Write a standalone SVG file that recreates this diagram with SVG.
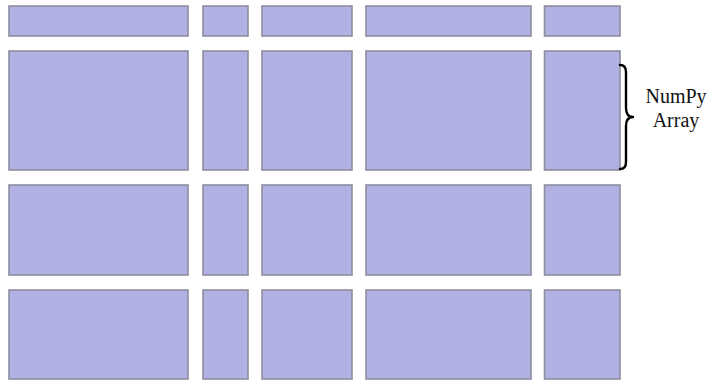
<svg xmlns="http://www.w3.org/2000/svg" width="710" height="380" viewBox="0 0 710 380">
<style>
.c{fill:#b1b1e3;stroke:#8e8e9e;stroke-width:1.6}
.lbl{font-family:"Liberation Serif","Times New Roman",serif;font-size:20px;fill:#111;text-anchor:middle}
.brace{fill:none;stroke:#000;stroke-width:2.4;stroke-linecap:round;stroke-linejoin:round}
</style>
<rect width="710" height="380" fill="#fff"/>
<g id="grid">
<g id="r1">
<rect class="c" x="9" y="6" width="179" height="30"/>
<rect class="c" x="203" y="6" width="45" height="30"/>
<rect class="c" x="262" y="6" width="90" height="30"/>
<rect class="c" x="366" y="6" width="165" height="30"/>
<rect class="c" x="544.5" y="6" width="75.5" height="30"/>
</g>
<g id="r2">
<rect class="c" x="9" y="51" width="179" height="119"/>
<rect class="c" x="203" y="51" width="45" height="119"/>
<rect class="c" x="262" y="51" width="90" height="119"/>
<rect class="c" x="366" y="51" width="165" height="119"/>
<rect class="c" x="544.5" y="51" width="75.5" height="119"/>
</g>
<g id="r3">
<rect class="c" x="9" y="185" width="179" height="90"/>
<rect class="c" x="203" y="185" width="45" height="90"/>
<rect class="c" x="262" y="185" width="90" height="90"/>
<rect class="c" x="366" y="185" width="165" height="90"/>
<rect class="c" x="544.5" y="185" width="75.5" height="90"/>
</g>
<g id="r4">
<rect class="c" x="9" y="290" width="179" height="89"/>
<rect class="c" x="203" y="290" width="45" height="89"/>
<rect class="c" x="262" y="290" width="90" height="89"/>
<rect class="c" x="366" y="290" width="165" height="89"/>
<rect class="c" x="544.5" y="290" width="75.5" height="89"/>
</g>
</g>
<g id="numpy-label">
<path class="brace" d="M620,65 Q626,65 626,72 L626,108 Q626,117 633,117 Q626,117 626,126 L626,162 Q626,169 620,169"/>
<text class="lbl" x="676" y="103">NumPy</text>
<text class="lbl" x="676" y="127">Array</text>
</g>
</svg>
